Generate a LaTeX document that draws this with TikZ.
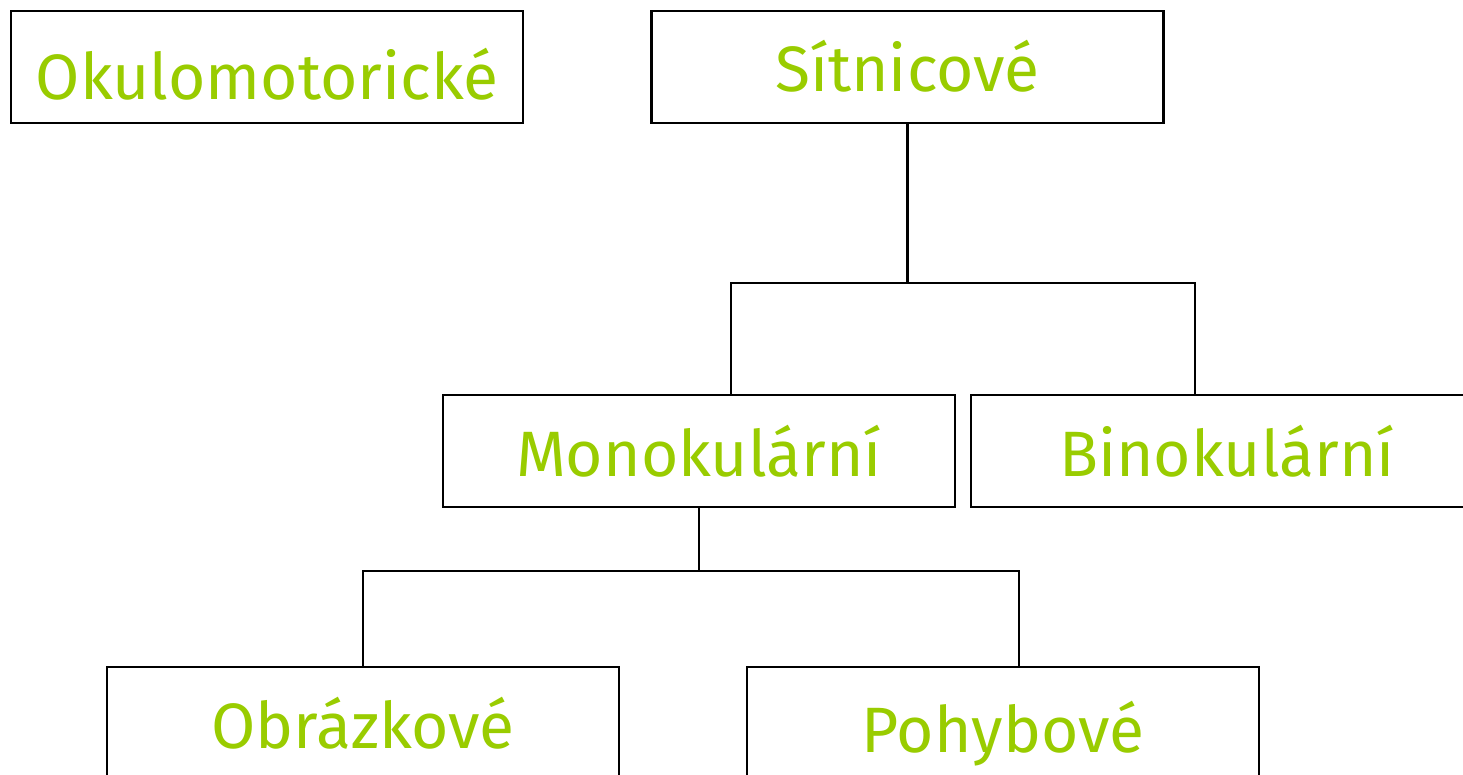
\documentclass[tikz,border=0pt]{standalone}
\usepackage{fontspec}
\setmainfont{Fira Sans}
\definecolor{leaf}{HTML}{99CC00}
\tikzset{
	box/.style={draw, line width=1.5pt, minimum width=10.24cm, minimum height=2.24cm, inner sep=0pt, text height=1cm, text depth=0cm, text=leaf, font=\fontsize{36.5}{44}\selectfont},
	link/.style={line width=1.5pt}
}
\begin{document}
\begin{tikzpicture}[x=0.02cm, y=-0.02cm]
		\useasboundingbox (0,0) rectangle (1463,774);
		\node[box, text height=1.32cm] (okulo) at (267,67) {Okulomotorické};
		\node[box] (sitn) at (907.5,67) {Sítnicové};
		\node[box] (mono) at (699,451) {Monokulární};
		\node[box] (bino) at (1227,451) {Binokulární};
		\node[box] (obraz) at (363,723) {Obrázkové};
		\node[box, text height=1.16cm] (pohyb) at (1003,723) {Pohybové};
		
		\coordinate (j1) at (907.5,283);
		\coordinate (j2) at (699,571);
		\draw[link] (sitn.south) -- (j1);
		\draw[link] ([xshift=0.64cm]mono.north) |- (j1) -| ([xshift=-0.64cm]bino.north);
		\draw[link] (mono.south) -- (j2);
		\draw[link] (obraz.north) |- (j2) -| ([xshift=0.32cm]pohyb.north);
	\end{tikzpicture}
\end{document}
